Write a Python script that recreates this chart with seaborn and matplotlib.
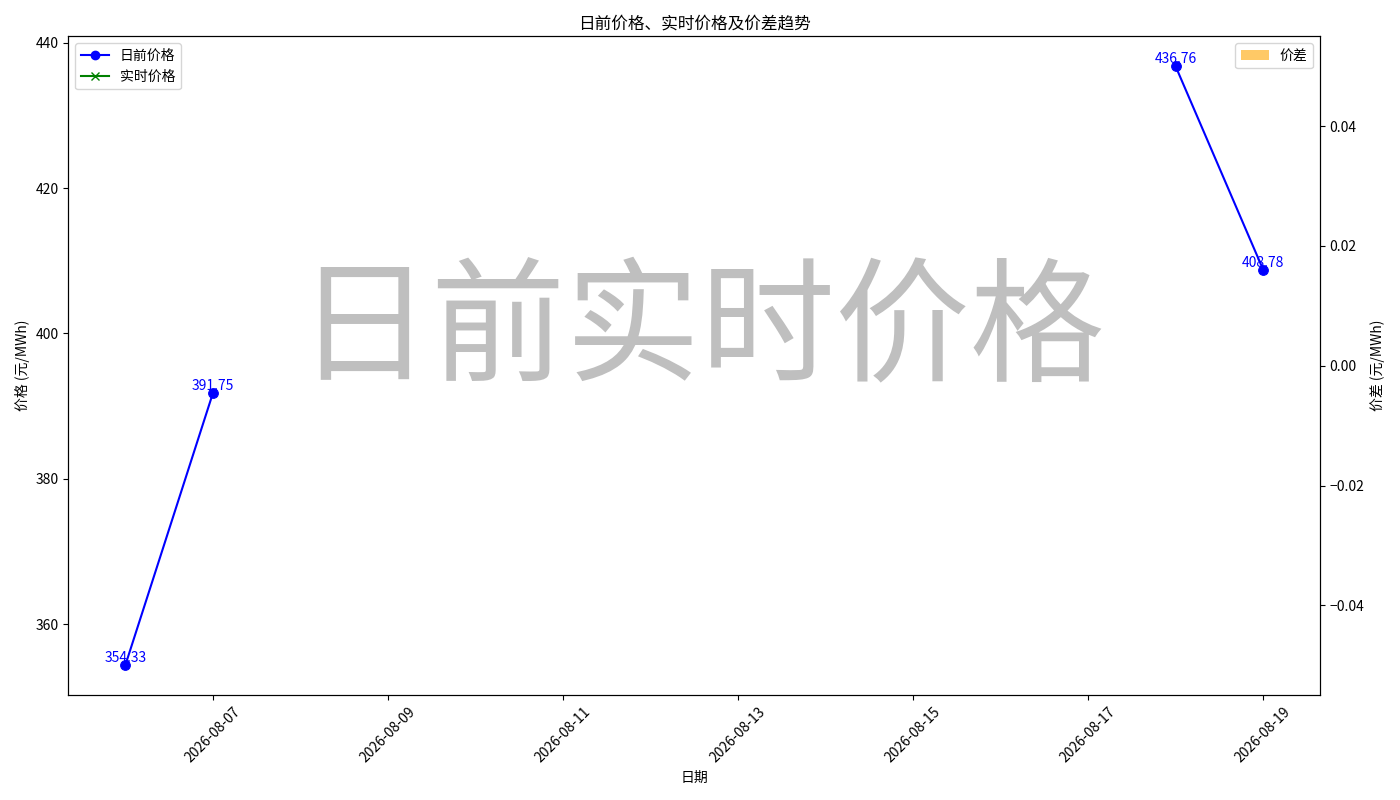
import numpy as np
import pandas as pd
import matplotlib
matplotlib.use("Agg")
import matplotlib.pyplot as plt
from matplotlib.lines import Line2D
from matplotlib.patches import Patch
import seaborn as sns

plt.rcParams['font.family'] = ['Noto Sans CJK SC', 'DejaVu Sans']

# data
dates = pd.date_range('2026-08-06', '2026-08-19', freq='D')
da_price = [354.33, 391.75, np.nan, np.nan, np.nan, np.nan, np.nan, np.nan,
            np.nan, np.nan, np.nan, np.nan, 436.76, 408.78]
rt_price = [np.nan] * 14
price_diff = [np.nan] * 14

df = pd.DataFrame({'date': dates, 'da': da_price, 'rt': rt_price, 'diff': price_diff})
# segment ids so that lines break at missing days
df['seg_da'] = df['da'].isna().cumsum()
df['seg_rt'] = df['rt'].isna().cumsum()

fig, ax1 = plt.subplots(figsize=(14, 8), dpi=100)

sns.lineplot(data=df.dropna(subset=['da']), x='date', y='da', units='seg_da',
             estimator=None, color='blue', marker='o', markersize=7,
             markeredgecolor='blue', ax=ax1, legend=False)
if df['rt'].notna().any():
    sns.lineplot(data=df.dropna(subset=['rt']), x='date', y='rt', units='seg_rt',
                 estimator=None, color='green', marker='x', ax=ax1, legend=False)

for d, v in zip(dates, da_price):
    if not np.isnan(v):
        ax1.text(d, v, f'{v:.2f}', color='blue', ha='center', va='bottom', fontsize=10)

ax1.set_xlim(dates[0] - pd.Timedelta(days=0.65), dates[-1] + pd.Timedelta(days=0.65))
ax1.set_xlabel('日期')
ax1.set_ylabel('价格 (元/MWh)')
ax1.set_title('日前价格、实时价格及价差趋势')
ax1.tick_params(axis='x', labelrotation=45)

ax2 = ax1.twinx()
ax2.bar(dates, price_diff, color='orange', alpha=0.6)
ax2.set_ylim(-0.055, 0.055)
ax2.set_ylabel('价差 (元/MWh)')

h1 = [Line2D([], [], color='blue', marker='o', label='日前价格'),
      Line2D([], [], color='green', marker='x', label='实时价格')]
ax1.legend(handles=h1, loc='upper left')
ax2.legend(handles=[Patch(facecolor='orange', alpha=0.6, linewidth=0, label='价差')],
           loc='upper right')

fig.text(0.5, 0.585, '日前实时价格', fontsize=97, color='gray', alpha=0.5,
         ha='center', va='center')

fig.tight_layout()
fig.savefig('out.png')
